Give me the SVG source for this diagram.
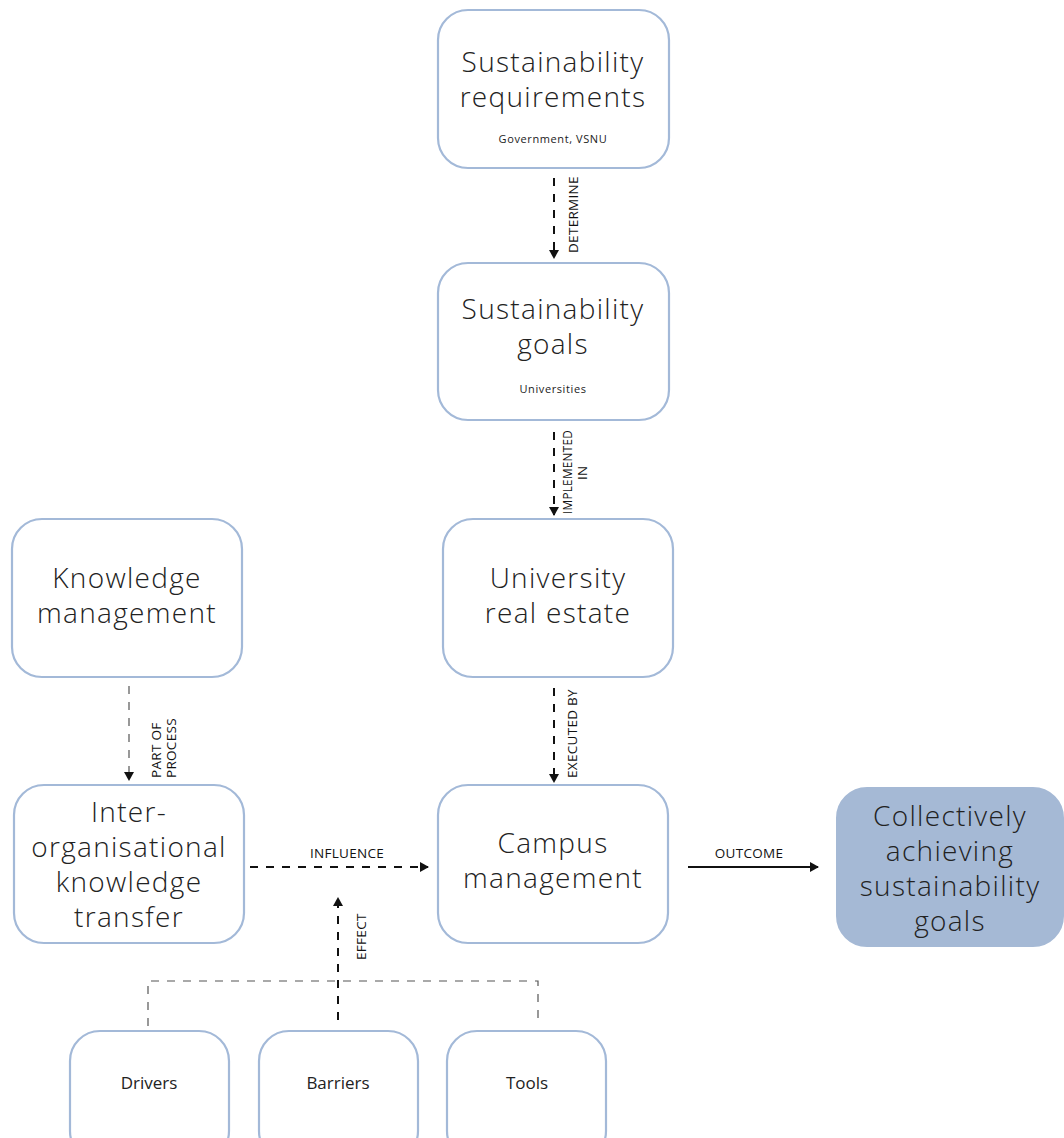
<svg xmlns="http://www.w3.org/2000/svg" width="1064" height="1138" viewBox="0 0 1064 1138">
<defs>
<style>
.box{fill:#fff;stroke:#a3b9d8;stroke-width:2.2}
.fill{fill:#a5b9d5;stroke:#a5b9d5;stroke-width:2}
.big{font-family:"Open Sans","Liberation Sans",sans-serif;font-weight:300;font-size:28px;letter-spacing:1.3px;fill:#222;text-anchor:middle}
.small{font-family:"Open Sans","Liberation Sans",sans-serif;font-size:11px;letter-spacing:0.6px;fill:#222;text-anchor:middle}
.mid{font-family:"Open Sans","Liberation Sans",sans-serif;font-size:17px;fill:#222;text-anchor:middle}
.lab{font-family:"Open Sans","Liberation Sans",sans-serif;font-size:13.5px;letter-spacing:0.3px;fill:#111}
.dash{stroke:#111;stroke-width:2;stroke-dasharray:8,8;fill:none}
.dashg{stroke:#555;stroke-width:1.2;stroke-dasharray:8,8;fill:none}
.solid{stroke:#111;stroke-width:2;fill:none}
</style>
<marker id="ah" markerWidth="10" markerHeight="10" refX="8" refY="5" orient="auto" markerUnits="userSpaceOnUse">
<path d="M0,0 L9,5 L0,10 Z" fill="#111"/>
</marker>
</defs>

<g id="n-req">
<rect class="box" x="438" y="10" width="231" height="158" rx="30"/>
<text class="big" x="553" y="72">Sustainability</text>
<text class="big" x="553" y="107">requirements</text>
<text class="small" x="553" y="143">Government, VSNU</text>
</g>
<g id="n-goals">
<rect class="box" x="438" y="263" width="231" height="157" rx="30"/>
<text class="big" x="553" y="319">Sustainability</text>
<text class="big" x="553" y="354">goals</text>
<text class="small" x="553" y="393">Universities</text>
</g>
<g id="n-km">
<rect class="box" x="12" y="519" width="230" height="158" rx="30"/>
<text class="big" x="127" y="588">Knowledge</text>
<text class="big" x="127" y="623">management</text>
</g>
<g id="n-ure">
<rect class="box" x="443" y="519" width="230" height="158" rx="30"/>
<text class="big" x="558" y="588">University</text>
<text class="big" x="558" y="623">real estate</text>
</g>
<g id="n-ikt">
<rect class="box" x="14" y="785" width="230" height="158" rx="30"/>
<text class="big" x="129" y="822">Inter-</text>
<text class="big" x="129" y="857">organisational</text>
<text class="big" x="129" y="892">knowledge</text>
<text class="big" x="129" y="927">transfer</text>
</g>
<g id="n-cm">
<rect class="box" x="438" y="785" width="230" height="158" rx="30"/>
<text class="big" x="553" y="853">Campus</text>
<text class="big" x="553" y="888">management</text>
</g>
<g id="n-goal">
<rect class="fill" x="837" y="788" width="226" height="158" rx="30"/>
<text class="big" x="950" y="826">Collectively</text>
<text class="big" x="950" y="861">achieving</text>
<text class="big" x="950" y="896">sustainability</text>
<text class="big" x="950" y="931">goals</text>
</g>
<g id="n-drivers">
<rect class="box" x="70" y="1031" width="159" height="130" rx="30"/>
<text class="mid" x="149" y="1089">Drivers</text>
</g>
<g id="n-barriers">
<rect class="box" x="259" y="1031" width="159" height="130" rx="30"/>
<text class="mid" x="338" y="1089">Barriers</text>
</g>
<g id="n-tools">
<rect class="box" x="447" y="1031" width="159" height="130" rx="30"/>
<text class="mid" x="527" y="1089">Tools</text>
</g>

<g id="connectors">
<line class="dash" x1="554" y1="178" x2="554" y2="258" marker-end="url(#ah)"/>
<text class="lab" transform="translate(578,253) rotate(-90)">DETERMINE</text>
<line class="dash" x1="554" y1="432" x2="554" y2="515" marker-end="url(#ah)"/>
<text class="lab" transform="translate(572,514) rotate(-90)" textLength="84" lengthAdjust="spacingAndGlyphs">IMPLEMENTED</text>
<text class="lab" transform="translate(587,480) rotate(-90)">IN</text>
<line class="dash" x1="554" y1="688" x2="554" y2="782" marker-end="url(#ah)"/>
<text class="lab" transform="translate(577,778) rotate(-90)">EXECUTED BY</text>
<line class="dashg" x1="129" y1="686" x2="129" y2="780" marker-end="url(#ah)"/>
<text class="lab" transform="translate(161,778) rotate(-90)">PART OF</text>
<text class="lab" transform="translate(176,778) rotate(-90)">PROCESS</text>
<line class="dash" x1="250" y1="867" x2="428" y2="867" marker-end="url(#ah)"/>
<text class="lab" x="347" y="858" text-anchor="middle">INFLUENCE</text>
<line class="solid" x1="688" y1="867" x2="818" y2="867" marker-end="url(#ah)"/>
<text class="lab" x="749" y="858" text-anchor="middle">OUTCOME</text>
<line class="dash" x1="338" y1="1020" x2="338" y2="898" marker-end="url(#ah)"/>
<text class="lab" transform="translate(366,960) rotate(-90)">EFFECT</text>
<polyline class="dashg" points="148,1026 148,981 538,981 538,1026"/>
</g>
</svg>
